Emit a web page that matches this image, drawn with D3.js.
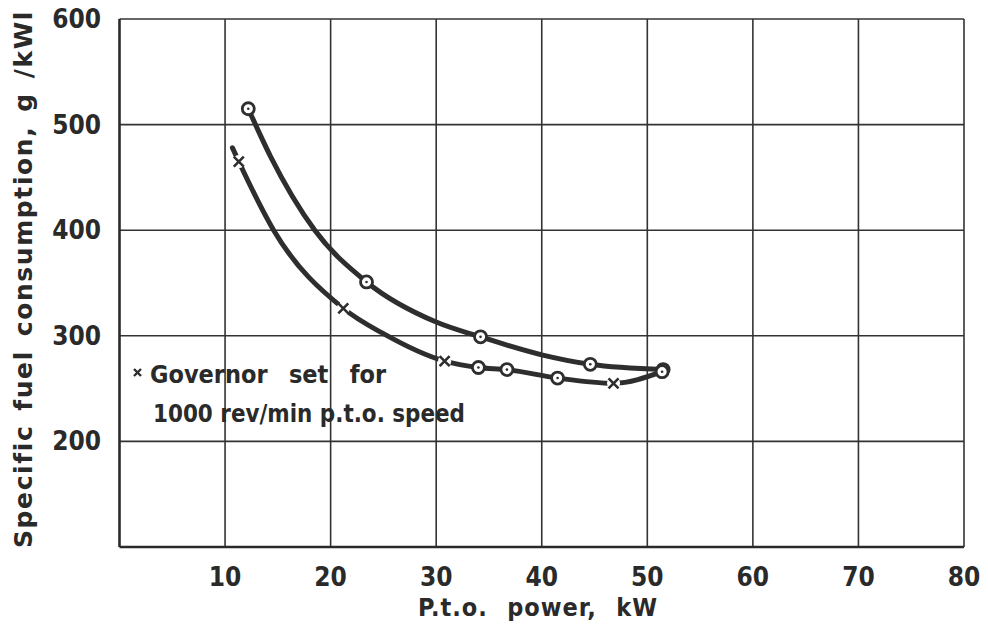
<!DOCTYPE html>
<html>
<head>
<meta charset="utf-8">
<title>sfc vs pto power</title>
<script src="https://cdn.jsdelivr.net/npm/d3@7/dist/d3.min.js"></script>
<style>
body { margin: 0; background: #fff; }
text { font-family: "DejaVu Sans Condensed", "DejaVu Sans", sans-serif; fill: #2a2a2a; font-weight: bold; }
text.wide { font-family: "DejaVu Sans", sans-serif; }
.grid line { stroke: #333; stroke-width: 1.6px; }
.curve { fill: none; stroke: #2e2e2e; stroke-width: 5px; stroke-linecap: round; }
</style>
</head>
<body>
<script>

// ticks
var xTicks = [10, 20, 30, 40, 50, 60, 70, 80];
var yTicks = [200, 300, 400, 500, 600];

// upper curve, traced; "o" = plotted point
var upperX = [12.2, 14.3, 18.5, 23.4, 30.0, 34.2, 40.0, 44.6, 51.5];
var upperY = [515, 470, 400, 351, 313, 299, 282, 273, 268];
var upperMark = ["o", "", "", "o", "", "o", "", "o", "o"];

// lower curve, governor set for 1000 rev/min
var lowerX = [10.7, 11.3, 14.6, 21.2, 25.0, 30.8, 34.0, 36.7, 41.5, 46.8, 51.4];
var lowerY = [478, 465, 400, 326, 302, 276, 270, 268, 260, 255, 266];
var lowerMark = ["", "x", "", "x", "", "x", "o", "o", "o", "x", "o"];

var legendLines = ["Governor set for", "1000 rev/min p.t.o. speed"];

var width = 988, height = 628;
var margin = {left: 119.5, right: 24, top: 19, bottom: 81};

var svg = d3.select("body").append("svg")
    .attr("width", width)
    .attr("height", height);

var x = d3.scaleLinear().domain([0, 80]).range([margin.left, width - margin.right]);
var y = d3.scaleLinear().domain([100, 600]).range([height - margin.bottom, margin.top]);

// spread words (not letters) so a text fills a given width
function fitWords(sel, w) {
  sel.each(function() {
    var n = this.textContent.split(" ").length - 1;
    var extra = w - this.getComputedTextLength();
    if (n > 0 && extra > 0) d3.select(this).style("word-spacing", (extra / n) + "px");
    else if (extra < 0) d3.select(this).attr("textLength", w).attr("lengthAdjust", "spacingAndGlyphs");
  });
}

var grid = svg.append("g").attr("class", "grid");
grid.selectAll("line.v").data(xTicks).enter().append("line")
    .attr("x1", d => x(d)).attr("x2", d => x(d))
    .attr("y1", y(600)).attr("y2", y(100));
grid.selectAll("line.h").data(yTicks).enter().append("line")
    .attr("x1", x(0)).attr("x2", x(80))
    .attr("y1", d => y(d)).attr("y2", d => y(d));

// left and bottom a bit heavier
svg.append("line").attr("x1", x(0)).attr("x2", x(0)).attr("y1", y(600)).attr("y2", y(100))
    .attr("stroke", "#2a2a2a").attr("stroke-width", 2.6);
svg.append("line").attr("x1", x(0)).attr("x2", x(80)).attr("y1", y(100)).attr("y2", y(100))
    .attr("stroke", "#2a2a2a").attr("stroke-width", 2.6);

// tick labels
svg.selectAll("text.xt").data(xTicks).enter().append("text")
    .attr("x", d => x(d)).attr("y", 586)
    .attr("text-anchor", "middle")
    .style("font-size", "26px")
    .text(d => d);
svg.selectAll("text.yt").data(yTicks).enter().append("text")
    .attr("x", 101).attr("y", d => y(d) + 9)
    .attr("text-anchor", "end")
    .style("font-size", "26px")
    .text(d => d);

// axis titles
svg.append("text").attr("class", "wide")
    .attr("transform", "translate(32,10) rotate(-90)")
    .attr("text-anchor", "end")
    .style("font-size", "25px").style("letter-spacing", "1.6px")
    .text("Specific fuel consumption, g /kWl")
    .call(fitWords, 538);
svg.append("text")
    .attr("x", 418).attr("y", 616)
    .style("font-size", "25px").style("letter-spacing", "1px")
    .text("P.t.o. power, kW")
    .call(fitWords, 240);

// curves
var line = d3.line().curve(d3.curveMonotoneX)
    .x(d => x(d[0])).y(d => y(d[1]));

var upper = upperX.map((v, i) => ({p: [v, upperY[i]], m: upperMark[i]}));
var lower = lowerX.map((v, i) => ({p: [v, lowerY[i]], m: lowerMark[i]}));

svg.append("path").attr("class", "curve").attr("d", line(lower.map(d => d.p)));
svg.append("path").attr("class", "curve").attr("d", line(upper.map(d => d.p)));

function circleMark(sel) {
  sel.append("circle").attr("r", 6).attr("fill", "#fff")
      .attr("stroke", "#2e2e2e").attr("stroke-width", 2.8);
  sel.append("circle").attr("r", 1.3).attr("fill", "#2e2e2e");
}
function crossMark(sel) {
  var s = 5;
  sel.append("circle").attr("r", 6.5).attr("fill", "#fff");
  sel.append("path").attr("d", "M" + (-s) + "," + (-s) + "L" + s + "," + s + "M" + s + "," + (-s) + "L" + (-s) + "," + s)
      .attr("stroke", "#2e2e2e").attr("stroke-width", 2.6);
}
function place(d) { return "translate(" + x(d.p[0]) + "," + y(d.p[1]) + ")"; }

var pts = upper.concat(lower);
svg.selectAll("g.o").data(pts.filter(d => d.m === "o")).enter().append("g")
    .attr("transform", place).call(circleMark);
svg.selectAll("g.x").data(pts.filter(d => d.m === "x")).enter().append("g")
    .attr("transform", place).call(crossMark);

// legend
var lg = svg.append("g");
lg.append("path")
    .attr("d", "M134,369L141,376M141,369L134,376")
    .attr("stroke", "#2e2e2e").attr("stroke-width", 2.4);
lg.selectAll("text").data(legendLines).enter().append("text")
    .attr("x", (d, i) => i === 0 ? 150 : 153)
    .attr("y", (d, i) => 383 + i * 39)
    .style("font-size", "25px")
    .text(d => d)
    .each(function(d, i) { d3.select(this).call(fitWords, i === 0 ? 236 : 312); });

</script>
</body>
</html>
